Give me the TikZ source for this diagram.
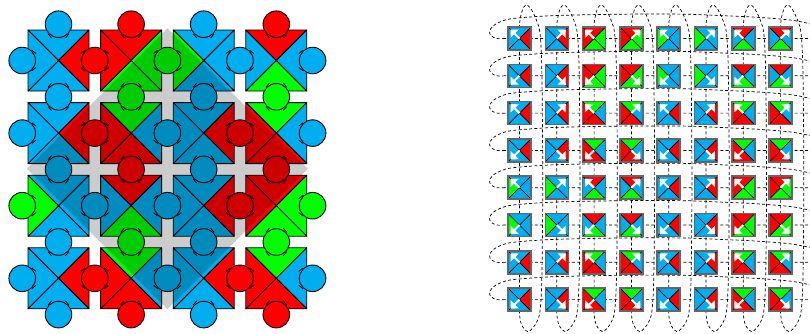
\documentclass[tikz,border=0pt]{standalone}
\usetikzlibrary{arrows.meta}
\definecolor{c0}{RGB}{0,174,239}
\definecolor{c1}{RGB}{255,0,0}
\definecolor{c2}{RGB}{0,255,0}
\begin{document}
\begin{tikzpicture}[x=1pt,y=-1pt,
  tri/.style={draw=black, line width=0.8pt, line join=round},
  knob/.style={draw=black, line width=0.9pt},
  tickmark/.style={black, line width=0.8pt},
  loopline/.style={black, line width=0.7pt, dash pattern=on 3pt off 2.3pt},
  minisq/.style={draw=black!60, line width=1.5pt},
  diag/.style={black, line width=0.7pt},
  pointer/.style={white, line width=2pt, -{Triangle[length=6pt,width=11pt]}},
  shade/.style={fill=black, fill opacity=0.2}
]
\useasboundingbox (0,0) rectangle (810,333);
\def\Harr{{0,1,0,1,0,2,0,2,0,1,0,1,0,2,0,2,0,1,0,1}}
\def\Varr{{0,1,2,0,0,0,1,0,1,0,2,0,0,1,2,0,1,0,1,0}}
% ---------- left panel: squares ----------
\foreach \rr in {0,1,2,3}{
 \foreach \cc in {0,1,2,3}{
  \pgfmathsetmacro\xl{28+72.6*\cc}
  \pgfmathsetmacro\yt{30+72.6*\rr}
  \pgfmathsetmacro\xr{\xl+61}
  \pgfmathsetmacro\yb{\yt+61}
  \pgfmathsetmacro\xm{\xl+30.5}
  \pgfmathsetmacro\ym{\yt+30.5}
  \pgfmathtruncatemacro\kt{\Harr[4*\rr+\cc]}
  \pgfmathtruncatemacro\kb{\Harr[4*\rr+4+\cc]}
  \pgfmathtruncatemacro\kl{\Varr[5*\rr+\cc]}
  \pgfmathtruncatemacro\kr{\Varr[5*\rr+\cc+1]}
  \filldraw[tri, fill=c\kt] (\xl,\yt) -- (\xr,\yt) -- (\xm,\ym) -- cycle;
  \filldraw[tri, fill=c\kr] (\xr,\yt) -- (\xr,\yb) -- (\xm,\ym) -- cycle;
  \filldraw[tri, fill=c\kb] (\xr,\yb) -- (\xl,\yb) -- (\xm,\ym) -- cycle;
  \filldraw[tri, fill=c\kl] (\xl,\yb) -- (\xl,\yt) -- (\xm,\ym) -- cycle;
  \draw[tickmark] (\xm-10.3,\yt+3.9) -- (\xm-7,\yt+7.9) (\xm+10.3,\yt+3.9) -- (\xm+7,\yt+7.9)
     (\xm-10.3,\yb-3.9) -- (\xm-7,\yb-7.9) (\xm+10.3,\yb-3.9) -- (\xm+7,\yb-7.9)
     (\xl+3.9,\ym-10.3) -- (\xl+7.9,\ym-7) (\xl+3.9,\ym+10.3) -- (\xl+7.9,\ym+7)
     (\xr-3.9,\ym-10.3) -- (\xr-7.9,\ym-7) (\xr-3.9,\ym+10.3) -- (\xr-7.9,\ym+7);
 }
}
% ---------- left panel: circles ----------
\foreach \rr in {0,...,4}{\foreach \cc in {0,...,3}{
  \pgfmathtruncatemacro\kk{\Harr[4*\rr+\cc]}
  \filldraw[knob, fill=c\kk] (58.5+72.6*\cc, 24.2+72.6*\rr) circle[radius=13.3pt];
}}
\foreach \rr in {0,...,3}{\foreach \cc in {0,...,4}{
  \pgfmathtruncatemacro\kk{\Varr[5*\rr+\cc]}
  \filldraw[knob, fill=c\kk] (22.2+72.6*\cc, 60.5+72.6*\rr) circle[radius=13.3pt];
}}
% ---------- left panel: shaded diamond ----------
\fill[shade] (167.4,28.2) -- (307.9,168.7) -- (167.4,309.2) -- (26.9,168.7) -- cycle;
% ---------- right panel ----------
\begin{scope}
\clip (0,0) rectangle (810,333);
\foreach \ii in {0,...,7}{
  \pgfmathsetmacro\yy{38.5+37.3*\ii}
  \draw[loopline] plot[smooth, tension=0.55] coordinates {(505,\yy) (497,\yy) (491.3,\yy-2.6) (489.5,\yy-7) (493,\yy-12.5) (501,\yy-17) (513,\yy-20) (547,\yy-22.6) (580,\yy-23.6) (613,\yy-24.2) (650,\yy-24.5) (690,\yy-24.2) (723,\yy-22.8) (757,\yy-21.2) (790,\yy-18.5) (808,\yy-15.2) (826,\yy-10.5) (838,\yy-4.5) (836,\yy-0.5) (826,\yy)} -- cycle;
}
\foreach \jj in {0,...,7}{
  \pgfmathsetmacro\xx{519.5+37.3*\jj}
  \draw[loopline] plot[smooth, tension=0.55] coordinates {(\xx,305) (\xx,314) (\xx+1.2,322) (\xx+3.6,327.5) (\xx+8.5,331.7) (\xx+13.6,327.5) (\xx+17.5,321.5) (\xx+20.5,311) (\xx+22.3,280) (\xx+23.2,200) (\xx+23,130) (\xx+22.2,65) (\xx+20.5,33.3) (\xx+17.5,21.5) (\xx+13.8,13) (\xx+10.5,7.5) (\xx+7,5) (\xx+4,7.5) (\xx+2,13) (\xx+0.5,20) (\xx,27) (\xx,35)} -- cycle;
}
\foreach \ii in {0,...,7}{\foreach \jj in {0,...,7}{
  \pgfmathsetmacro\cx{519.5+37.3*\jj}
  \pgfmathsetmacro\cy{38.5+37.3*\ii}
  \pgfmathtruncatemacro\rr{floor(\ii/2)}
  \pgfmathtruncatemacro\cc{floor(\jj/2)}
  \pgfmathtruncatemacro\kt{\Harr[4*\rr+\cc]}
  \pgfmathtruncatemacro\kb{\Harr[4*\rr+4+\cc]}
  \pgfmathtruncatemacro\kl{\Varr[5*\rr+\cc]}
  \pgfmathtruncatemacro\kr{\Varr[5*\rr+\cc+1]}
  \pgfmathsetmacro\dx{ifthenelse(mod(\jj,2)==0,-1,1)}
  \pgfmathsetmacro\dy{ifthenelse(mod(\ii,2)==0,-1,1)}
  \fill[c\kt] (\cx-11.5,\cy-11.5) -- (\cx+11.5,\cy-11.5) -- (\cx,\cy) -- cycle;
  \fill[c\kr] (\cx+11.5,\cy-11.5) -- (\cx+11.5,\cy+11.5) -- (\cx,\cy) -- cycle;
  \fill[c\kb] (\cx+11.5,\cy+11.5) -- (\cx-11.5,\cy+11.5) -- (\cx,\cy) -- cycle;
  \fill[c\kl] (\cx-11.5,\cy+11.5) -- (\cx-11.5,\cy-11.5) -- (\cx,\cy) -- cycle;
  \draw[diag] (\cx-11.5,\cy-11.5) -- (\cx+11.5,\cy+11.5) (\cx+11.5,\cy-11.5) -- (\cx-11.5,\cy+11.5);
  \draw[pointer] (\cx,\cy) -- (\cx+9*\dx,\cy+9*\dy);
  \draw[minisq] (\cx-11.5,\cy-11.5) rectangle (\cx+11.5,\cy+11.5);
}}
\end{scope}
\end{tikzpicture}
\end{document}
